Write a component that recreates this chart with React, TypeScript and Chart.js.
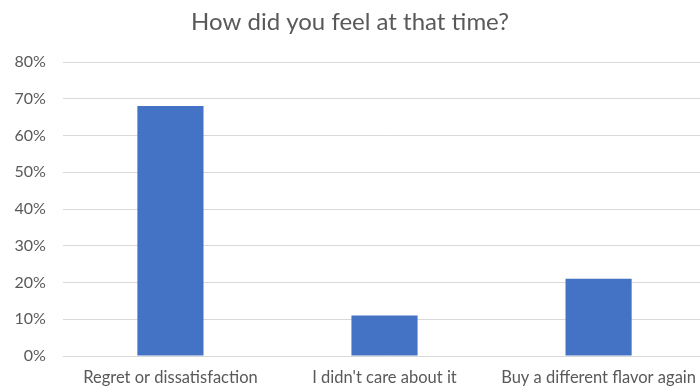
import React, { useEffect, useRef } from "react";
import { Chart, registerables } from "chart.js";

Chart.register(...registerables);

const categories = ["Regret or dissatisfaction", "I didn't care about it", "Buy a different flavor again"];
const values = [68, 11, 21];
const yTicks = [0, 10, 20, 30, 40, 50, 60, 70, 80];
const titleText = "How did you feel at that time?";

const FONT = "Lato, 'Open Sans', sans-serif";
const TEXT = "#595959";

export default function App() {
  const ref = useRef<HTMLCanvasElement | null>(null);
  useEffect(() => {
    if (!ref.current) return;
    const chart = new Chart(ref.current, {
      type: "bar",
      data: {
        labels: categories,
        datasets: [
          {
            data: values,
            backgroundColor: "#4472C4",
            borderWidth: 0,
            categoryPercentage: 1,
            barPercentage: 0.309,
          },
        ],
      },
      options: {
        responsive: false,
        animation: false,
        layout: { padding: 0 },
        plugins: {
          legend: { display: false },
          tooltip: { enabled: false },
          title: {
            display: true,
            text: titleText,
            color: TEXT,
            font: { family: FONT, size: 24, weight: "normal" },
            padding: { top: 8, bottom: 25.2 },
          },
        },
        scales: {
          x: {
            grid: { display: false, drawTicks: false },
            border: { display: false },
            ticks: { color: TEXT, font: { family: FONT, size: 16.5 }, padding: 12, maxRotation: 0, autoSkip: false },
            afterFit: (s: any) => {
              s.height = 35;
            },
          },
          y: {
            min: 0,
            max: 80,
            afterBuildTicks: (s: any) => {
              s.ticks = yTicks.map((v) => ({ value: v }));
            },
            grid: { color: "#D9D9D9", lineWidth: 1, drawTicks: false },
            border: { display: false },
            ticks: {
              color: TEXT,
              font: { family: FONT, size: 16 },
              padding: 17.5,
              callback: (v: any) => v + "%",
            },
            afterFit: (s: any) => {
              s.width = 71.4;
            },
          },
        },
      },
    });
    return () => chart.destroy();
  }, []);
  return (
    <div style={{ position: "fixed", left: 0, top: 0, width: 700, height: 391, overflow: "hidden", background: "#fff" }}>
      <div style={{ position: "absolute", left: -8, top: 0, width: 716, height: 391 }}>
        <canvas ref={ref} width={716} height={391} style={{ width: 716, height: 391, display: "block" }} />
      </div>
    </div>
  );
}
